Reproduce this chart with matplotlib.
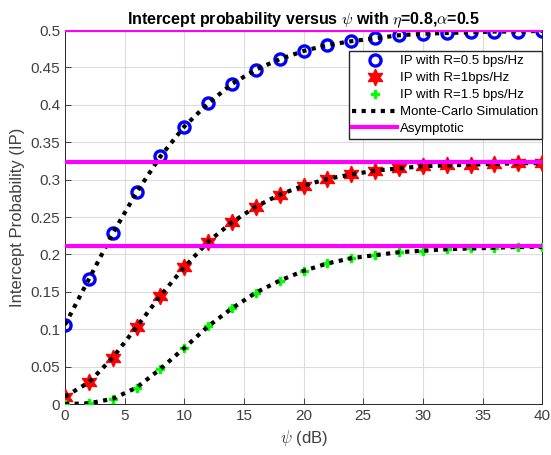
import numpy as np
import matplotlib.pyplot as plt

plt.rcParams['font.family'] = ['Liberation Sans', 'DejaVu Sans']
plt.rcParams['mathtext.fontset'] = 'cm'

# Data
psi_db = [0, 2, 4, 6, 8, 10, 12, 14, 16, 18, 20, 22, 24, 26, 28, 30, 32, 34, 36, 38, 40]
ip_r05 = [0.106, 0.167, 0.228, 0.283, 0.331, 0.371, 0.402, 0.428, 0.447, 0.461, 0.472,
          0.480, 0.485, 0.489, 0.493, 0.495, 0.496, 0.497, 0.498, 0.498, 0.499]
ip_r1 = [0.010, 0.029, 0.062, 0.103, 0.145, 0.183, 0.217, 0.243, 0.264, 0.280, 0.292,
         0.301, 0.307, 0.312, 0.315, 0.318, 0.319, 0.320, 0.321, 0.322, 0.322]
ip_r15 = [0.000, 0.001, 0.007, 0.022, 0.047, 0.075, 0.104, 0.128, 0.149, 0.165, 0.178,
          0.188, 0.195, 0.199, 0.203, 0.205, 0.207, 0.208, 0.209, 0.210, 0.210]
asym = [0.5, 0.3235, 0.2113]

fig = plt.figure(figsize=(5.51, 4.55), dpi=100)
ax = fig.add_axes([0.118, 0.112, 0.866, 0.822])

ax.plot(psi_db, ip_r05, 'o', ls='none', mfc='none', mec='#0000ff', mew=2.4, ms=8,
        label='IP with R=0.5 bps/Hz', zorder=3)
ax.plot(psi_db, ip_r1, ls='none', marker=(6, 1, 0), color='red', ms=12,
        label='IP with R=1bps/Hz', zorder=3)
ax.plot(psi_db, ip_r15, 'P', ls='none', color='#00ff00', ms=6,
        label='IP with R=1.5 bps/Hz', zorder=3)

# simulation curves
for i, ys in enumerate([ip_r05, ip_r1, ip_r15]):
    ax.plot(psi_db, ys, color='black', ls=(0, (1, 1.3)), lw=3,
            label='Monte-Carlo Simulation' if i == 0 else None, zorder=4)

for i, a in enumerate(asym):
    ax.axhline(a, color='#ff00ff', lw=3, label='Asymptotic' if i == 0 else None, zorder=5)

ax.set_xlim(0, 40)
ax.set_ylim(0, 0.5)
ax.set_xticks(np.arange(0, 41, 5))
ax.set_yticks(np.arange(0, 0.51, 0.05))
ax.set_yticklabels(['0', '0.05', '0.1', '0.15', '0.2', '0.25', '0.3', '0.35', '0.4', '0.45', '0.5'])
ax.tick_params(labelsize=11, colors='#262626', labelcolor='#404040', direction='in',
               length=4, width=0.6)
ax.grid(True, color='#dcdcdc', lw=0.8)
for s in ax.spines.values():
    s.set_color('#262626')
    s.set_linewidth(0.7)

ax.set_xlabel(r'$\psi$ (dB)', fontsize=12, color='#404040')
ax.set_ylabel('Intercept Probability (IP)', fontsize=12, color='#404040')
ax.set_title(r'Intercept probability versus $\psi$ with $\eta$=0.8,$\alpha$=0.5',
             fontsize=11.5, fontweight='bold', pad=4)

ax.legend(loc='upper right', bbox_to_anchor=(1.0, 0.944), borderaxespad=0, fontsize=9.5,
          frameon=True, fancybox=False, edgecolor='#262626', framealpha=1, borderpad=0.3,
          labelspacing=0.36, handlelength=3.4, handletextpad=0.2)

fig.savefig('out.png', dpi=100)
